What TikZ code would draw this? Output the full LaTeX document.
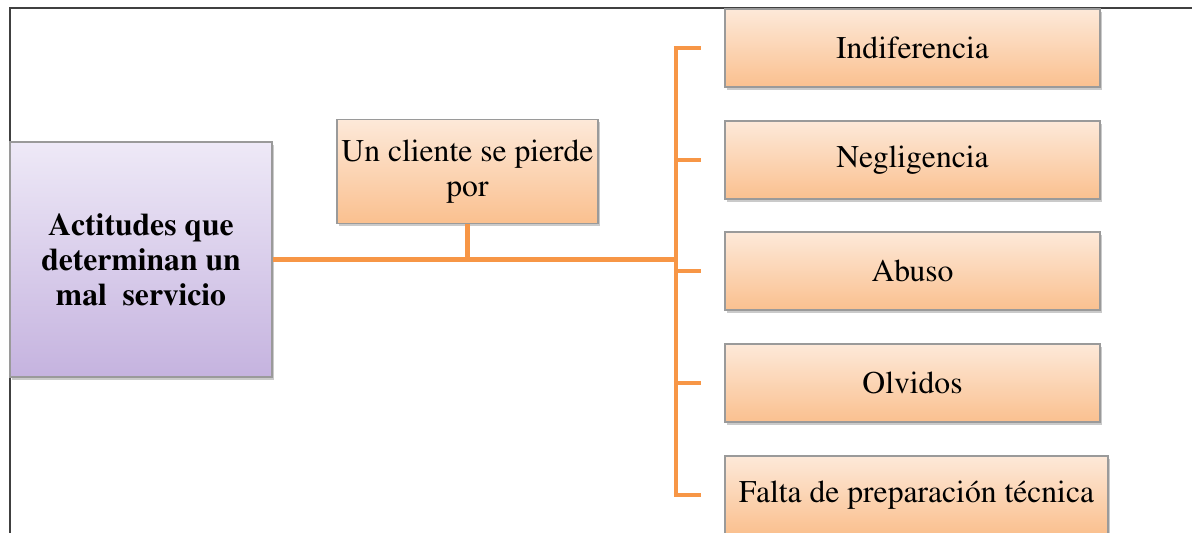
\documentclass[tikz,border=0pt]{standalone}
\usepackage[T1]{fontenc}
\usepackage{mathptmx}
\usepackage{xcolor}
\usepackage{tikz}
\usetikzlibrary{calc,shadows}
\definecolor{trunkcol}{HTML}{F79646}
\definecolor{orangetop}{HTML}{FDE9D9}
\definecolor{orangebot}{HTML}{FAC08F}
\definecolor{purpletop}{HTML}{EEE9F7}
\definecolor{purplebot}{HTML}{C5B3DF}
\definecolor{edgegray}{HTML}{9A9A9A}
\definecolor{framecol}{HTML}{404040}
\tikzset{
  trunk/.style={draw=trunkcol, line width=2.4pt},
  frameline/.style={draw=framecol, line width=0.6pt},
  card/.style={rectangle, draw=edgegray, line width=0.6pt, align=center,
    font=\fontsize{18}{20}\selectfont, inner sep=0pt,
    drop shadow={shadow xshift=1.2pt, shadow yshift=-1.6pt, opacity=0.35, fill=black!60}},
  peach/.style={card, top color=orangetop, bottom color=orangebot},
  lilac/.style={card, top color=purpletop, bottom color=purplebot,
    font=\fontsize{18}{20}\selectfont\bfseries},
}

\begin{document}
\begin{tikzpicture}[x=0.02cm, y=-0.02cm]
  \useasboundingbox (0,0) rectangle (1192,533);
  \clip (0,0) rectangle (1192,533);

  \draw[frameline] (10,540) -- (10,8) -- (1200,8);

  \node[lilac, minimum width=262*0.02cm, minimum height=235*0.02cm] (act) at (141,259.5)
    {Actitudes que\\determinan un\\mal~~servicio};
  \node[peach, minimum width=261*0.02cm, minimum height=104*0.02cm] (cli) at (467.5,171.5)
    {Un cliente se pierde\\por};

  \node[peach, minimum width=375*0.02cm, minimum height=78*0.02cm] (ind) at (912.5,48) {Indiferencia};
  \node[peach, minimum width=375*0.02cm, minimum height=78*0.02cm] (neg) at (912.5,160) {Negligencia};
  \node[peach, minimum width=375*0.02cm, minimum height=78*0.02cm] (abu) at (912.5,271) {Abuso};
  \node[peach, minimum width=375*0.02cm, minimum height=78*0.02cm] (olv) at (912.5,383) {Olvidos};
  \node[peach, minimum width=383*0.02cm, minimum height=78*0.02cm] (fal) at (916.5,495) {Falta de preparación técnica};

  \coordinate (bus) at (676,0);
  \coordinate (join) at (cli.south |- act.east);

  \draw[trunk] (act.east) -- (act.east -| bus);
  \draw[trunk] (cli.south) -- (join);
  \draw[trunk] (bus |- ind.west) -- (bus |- fal.west);
  \foreach \n in {ind,neg,abu,olv,fal}
    \draw[trunk] ([xshift=-1.2pt]bus |- \n.west) -- ($(\n.west)+(-23,0)$);
\end{tikzpicture}
\end{document}
